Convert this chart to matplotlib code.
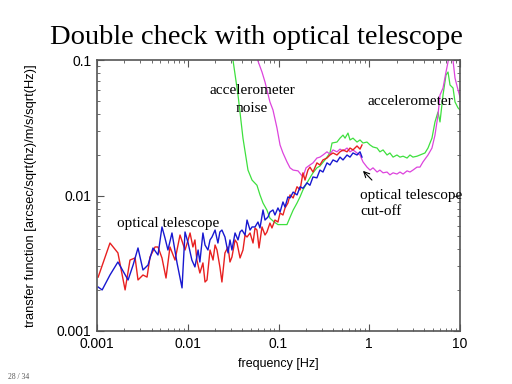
import matplotlib
matplotlib.use('Agg')
import matplotlib.pyplot as plt

# optical telescope, run 1 (red)
red_f = [0.00103, 0.00139, 0.00170, 0.00204, 0.00231, 0.00263, 0.00283, 0.00321, 0.00356, 0.00384,
         0.00436, 0.00470, 0.00520, 0.00576, 0.00637, 0.00724, 0.00822, 0.00933, 0.0101, 0.0106,
         0.0114, 0.0120, 0.0126, 0.0136, 0.0147, 0.0155, 0.0163, 0.0176, 0.0190, 0.0200,
         0.0210, 0.0226, 0.0238, 0.0257, 0.0278, 0.0292, 0.0307, 0.0332, 0.0349, 0.0377,
         0.0406, 0.0428, 0.0450, 0.0486, 0.0524, 0.0551, 0.0579, 0.0610, 0.0658, 0.0710,
         0.0746, 0.0805, 0.0847, 0.0914, 0.0986, 0.104, 0.112, 0.118, 0.127, 0.134,
         0.145, 0.160, 0.173, 0.186, 0.196, 0.211, 0.222, 0.240, 0.265, 0.286,
         0.309, 0.342, 0.369, 0.399, 0.441, 0.476, 0.514, 0.569, 0.614, 0.662,
         0.733, 0.791, 0.832]
red_v = [0.00250, 0.00446, 0.00377, 0.00201, 0.00334, 0.00346, 0.00238, 0.00259, 0.00250, 0.00352,
         0.00417, 0.00417, 0.00346, 0.00246, 0.00417, 0.00334, 0.00511, 0.00396, 0.00470, 0.00529,
         0.00417, 0.00470, 0.00334, 0.00268, 0.00318, 0.00230, 0.00238, 0.00396, 0.00334, 0.00431,
         0.00396, 0.00297, 0.00230, 0.00377, 0.00417, 0.00323, 0.00352, 0.00470, 0.00446, 0.00346,
         0.00396, 0.00511, 0.00494, 0.00529, 0.00446, 0.00576, 0.00556, 0.00410, 0.00586, 0.00511,
         0.00538, 0.00626, 0.00576, 0.00659, 0.00637, 0.00743, 0.00718, 0.00809, 0.00880, 0.0101,
         0.00959, 0.0116, 0.0110, 0.0147, 0.0130, 0.0154, 0.0162, 0.0149, 0.0174, 0.0168,
         0.0183, 0.0189, 0.0199, 0.0206, 0.0199, 0.0210, 0.0217, 0.0210, 0.0224, 0.0217,
         0.0232, 0.0220, 0.0236]

# optical telescope, run 2 (blue)
blue_f = [0.00103, 0.00114, 0.00139, 0.00170, 0.00220, 0.00250, 0.00283, 0.00321, 0.00365, 0.00414,
          0.00470, 0.00520, 0.00561, 0.00605, 0.00670, 0.00762, 0.00865, 0.00933, 0.0101, 0.0111,
          0.0120, 0.0130, 0.0136, 0.0147, 0.0155, 0.0167, 0.0176, 0.0185, 0.0200, 0.0215,
          0.0226, 0.0238, 0.0257, 0.0278, 0.0292, 0.0307, 0.0332, 0.0358, 0.0377, 0.0396,
          0.0428, 0.0450, 0.0486, 0.0511, 0.0551, 0.0594, 0.0625, 0.0675, 0.0710, 0.0766,
          0.0805, 0.0869, 0.0914, 0.0986, 0.104, 0.112, 0.118, 0.127, 0.134, 0.145,
          0.160, 0.173, 0.186, 0.206, 0.222, 0.240, 0.265, 0.286, 0.309, 0.342,
          0.369, 0.399, 0.441, 0.476, 0.514, 0.569, 0.614, 0.662, 0.733, 0.791, 0.832]
blue_v = [0.00211, 0.00201, 0.00259, 0.00323, 0.00238, 0.00307, 0.00410, 0.00282, 0.00307, 0.00410,
          0.00364, 0.00586, 0.00486, 0.00396, 0.00529, 0.00318, 0.00208, 0.00538, 0.00446, 0.00334,
          0.00297, 0.00396, 0.00323, 0.00529, 0.00431, 0.00396, 0.00470, 0.00494, 0.00556, 0.00446,
          0.00538, 0.00556, 0.00494, 0.00377, 0.00470, 0.00396, 0.00529, 0.00470, 0.00538, 0.00556,
          0.00511, 0.00659, 0.00556, 0.00586, 0.00586, 0.00637, 0.00576, 0.00782, 0.00659, 0.00694,
          0.00755, 0.00782, 0.00718, 0.00809, 0.00755, 0.00896, 0.00822, 0.00976, 0.00959, 0.0106,
          0.0101, 0.0116, 0.0113, 0.0124, 0.0119, 0.0137, 0.0135, 0.0154, 0.0149, 0.0174,
          0.0168, 0.0183, 0.0177, 0.0192, 0.0183, 0.0199, 0.0192, 0.0206, 0.0199, 0.0210, 0.0192]

# accelerometer (green)
green_f = [0.0300, 0.0315, 0.0358, 0.0406, 0.0461, 0.0511, 0.0579, 0.0625, 0.0675, 0.0746,
           0.0805, 0.0891, 0.0986, 0.112, 0.124, 0.134, 0.145, 0.160, 0.173, 0.186,
           0.206, 0.222, 0.240, 0.265, 0.286, 0.325, 0.369, 0.389, 0.441, 0.476,
           0.514, 0.541, 0.583, 0.614, 0.662, 0.733, 0.791, 0.853, 0.944, 1.02,
           1.10, 1.22, 1.31, 1.42, 1.57, 1.69, 1.83, 2.02, 2.18, 2.36,
           2.61, 2.81, 3.03, 3.36, 3.62, 4.11, 4.44, 4.67, 4.91, 5.30,
           5.72, 6.02, 6.50, 7.01, 7.38, 7.76, 8.38, 8.81, 9.51, 10.0]
green_v = [0.13, 0.100, 0.0552, 0.0265, 0.0154, 0.0130, 0.0119, 0.0101, 0.0088, 0.0078,
           0.0068, 0.0064, 0.0061, 0.0061, 0.0061, 0.0069, 0.0078, 0.0088, 0.0098, 0.0110,
           0.0124, 0.0135, 0.0147, 0.0160, 0.0165, 0.0183, 0.0206, 0.0244, 0.0248, 0.0265,
           0.0279, 0.0265, 0.0289, 0.0257, 0.0265, 0.0248, 0.0257, 0.0244, 0.0248, 0.0236,
           0.0228, 0.0224, 0.0210, 0.0217, 0.0199, 0.0206, 0.0192, 0.0199, 0.0192, 0.0195,
           0.0189, 0.0199, 0.0192, 0.0195, 0.0199, 0.0206, 0.0224, 0.0244, 0.0265, 0.0349,
           0.0413, 0.0349, 0.0552, 0.0775, 0.0815, 0.0654, 0.0621, 0.0490, 0.0443, 0.0428]

# accelerometer (magenta)
mag_f = [0.0560, 0.0579, 0.0658, 0.0710, 0.0805, 0.0869, 0.0962, 0.104, 0.112, 0.124,
         0.134, 0.145, 0.164, 0.186, 0.201, 0.222, 0.240, 0.265, 0.286, 0.309,
         0.342, 0.369, 0.399, 0.441, 0.476, 0.514, 0.569, 0.614, 0.662, 0.733,
         0.791, 0.853, 0.944, 1.02, 1.10, 1.22, 1.31, 1.42, 1.57, 1.69,
         1.83, 2.02, 2.18, 2.36, 2.61, 2.81, 3.03, 3.36, 3.62, 3.91,
         4.44, 4.91, 5.30, 5.72, 6.02, 6.50, 7.01, 7.38, 7.76, 8.17,
         8.81, 9.51, 10.0]
mag_v = [0.12, 0.103, 0.0815, 0.0688, 0.0490, 0.0428, 0.0315, 0.0236, 0.0206, 0.0177,
         0.0160, 0.0154, 0.0152, 0.0137, 0.0160, 0.0168, 0.0174, 0.0189, 0.0192, 0.0199,
         0.0210, 0.0202, 0.0217, 0.0210, 0.0220, 0.0213, 0.0224, 0.0210, 0.0217, 0.0206,
         0.0199, 0.0177, 0.0162, 0.0154, 0.0160, 0.0149, 0.0154, 0.0147, 0.0149, 0.0142,
         0.0147, 0.0144, 0.0149, 0.0144, 0.0152, 0.0149, 0.0154, 0.0162, 0.0162, 0.0177,
         0.0199, 0.0224, 0.0279, 0.0393, 0.0552, 0.0621, 0.0815, 0.0967, 0.118, 0.115,
         0.0736, 0.0601, 0.0533]

fig = plt.figure(figsize=(5.12, 3.84), dpi=100)
ax = fig.add_axes([97 / 512, 1 - 331 / 384, 363 / 512, 271 / 384])

ax.plot(green_f, green_v, color='#3ee03e', lw=0.9)
ax.plot(mag_f, mag_v, color='#dd44dd', lw=0.9)
ax.plot(red_f, red_v, color='#e82020', lw=1.0)
ax.plot(blue_f, blue_v, color='#1818d0', lw=1.0)

ax.set_xscale('log')
ax.set_yscale('log')
ax.set_xlim(0.001, 10)
ax.set_ylim(0.001, 0.1)
ax.set_xticks([0.001, 0.01, 0.1, 1, 10])
ax.set_xticklabels(['0.001', '0.01', '0.1', '1', '10'])
ax.set_yticks([0.001, 0.01, 0.1])
ax.set_yticklabels(['0.001', '0.01', '0.1'])
ax.tick_params(which='both', direction='in', top=True, right=True, color='#555555',
               labelsize=10, labelfontfamily='Liberation Sans')
ax.tick_params(which='major', length=5, pad=4)
ax.tick_params(which='minor', length=2.5)
for s in ax.spines.values():
    s.set_color('#555555')
    s.set_linewidth(1.2)

ax.set_xlabel('frequency [Hz]', fontsize=9, family='Liberation Sans', labelpad=5)
ax.set_ylabel('transfer function [arcsec/sqrt(hz)/m/s/sqrt(Hz)]', fontsize=9.3,
              family='Liberation Sans', labelpad=14)

serif = dict(family='Liberation Serif', fontsize=11)
ax.text(0.051, 0.051, 'accelerometer\nnoise', ha='center', va='center', linespacing=1.45, **serif)
ax.text(2.81, 0.049, 'accelerometer', ha='center', va='center', **serif)
ax.text(0.79, 0.0088, 'optical telescope\ncut-off', ha='left', va='center', linespacing=1.3, **serif)
ax.text(0.00605, 0.00617, 'optical telescope', ha='center', va='center', **serif)
ax.annotate('', xy=(0.853, 0.0152), xytext=(1.07, 0.0130),
            arrowprops=dict(arrowstyle='->', color='black', lw=0.8, shrinkA=0, shrinkB=0))

fig.text(0.5, 1 - 38 / 384, 'Double check with optical telescope', ha='center', va='center',
         family='Liberation Serif', fontsize=20.5)
fig.text(8 / 512, 1 - 377 / 384, '28 / 34', ha='left', va='center',
         family='Liberation Serif', fontsize=5.5, color='#555555')

fig.savefig('out.png', dpi=100)
